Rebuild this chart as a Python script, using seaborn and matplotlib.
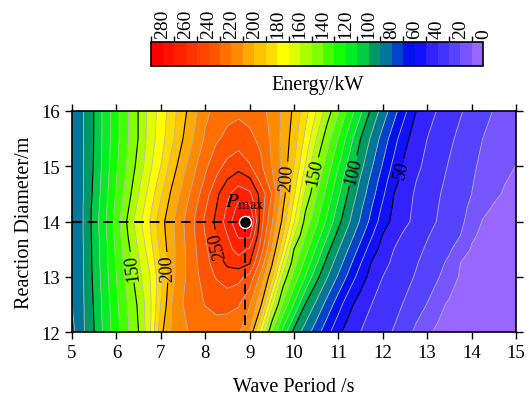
import numpy as np
import matplotlib
matplotlib.use("Agg")
import matplotlib.pyplot as plt
from matplotlib.colors import ListedColormap, BoundaryNorm
import seaborn as sns

# Wave period grid (s) and reaction diameter rows (m)
wave_period = np.linspace(5.0, 15.0, 41)
reaction_diameter = [12.0, 12.5, 13.0, 13.25, 13.5, 13.75, 14.0, 14.25, 14.5, 14.75, 15.0, 15.5, 16.0]

# Energy (kW) along each diameter row, one value per 0.25 s of wave period
energy_d12_00 = [77, 88.6, 100, 113.5, 126.3, 138.6, 150, 167.7, 197.1, 211.4, 218.6, 221.6, 223.6,
                 225.6, 224, 221.5, 210, 175, 140.6, 117, 96.9, 85.7, 74.6, 63.4, 52.2, 45.6, 40,
                 36.5, 33.1, 29.3, 23.9, 18, 10.9, 9, 7.8, 6.7, 5.5, 4.4, 3.3, 2.1, 1]
energy_d12_50 = [80, 89, 101, 114.5, 127.8, 140, 151.8, 166.9, 190, 210, 220, 225.6, 230.4,
                 232.7, 233.1, 230.9, 221.2, 202.3, 165.6, 138.5, 119.2, 100, 88.1, 76.2, 64.3, 52.4,
                 45.6, 40, 36.4, 32.9, 29.1, 24.4, 19.7, 11.6, 9.1, 7.9, 6.7, 5.5, 4.4, 3.2, 2]
energy_d13_00 = [82, 89.5, 102.4, 116.3, 130, 143, 156.8, 169.5, 186.4, 207, 218, 226.7, 234.3,
                 240.8, 245, 243, 236.7, 217.3, 192.9, 157.1, 136.7, 120, 103.3, 90.5, 78.6, 66.7,
                 54.8, 46.3, 40, 36.4, 32.9, 29.2, 25, 20.8, 13.3, 9.25, 8, 6.75, 5.5, 4.25, 3]
energy_d13_25 = [83, 89.7, 102.9, 116.8, 131.1, 145.3, 158.9, 171.9, 190, 207, 217.9, 227.4, 236.4,
                 245, 252, 255.1, 250.9, 226.7, 201.8, 169.7, 143.6, 127.6, 111.5, 96.6, 84.6, 72.6,
                 60.6, 49.3, 43, 38.1, 34.4, 30.7, 26.8, 22.9, 17.8, 10, 8.7, 7.4, 6.1, 4.8, 3.5]
energy_d13_50 = [83.5, 89.5, 103, 117, 132, 147, 161, 175.3, 192.3, 206.8, 217.8, 228, 238,
                 248, 256.7, 264, 258.6, 235.6, 210, 181.3, 150, 134.4, 118.8, 103.1, 90.5, 78.6,
                 66.7, 54.8, 46.3, 40, 36.3, 32.5, 28.8, 25.1, 21.5, 15, 9.4, 8.1, 6.8, 5.4, 4]
energy_d13_75 = [84, 90, 103.5, 118.2, 133.3, 149.4, 163.9, 177.8, 194.7, 207.4, 218.6, 229.2, 240,
                 250, 260, 271.5, 272.7, 241.3, 216, 189.8, 161.4, 141, 125.9, 110.8, 96.7, 84.8,
                 72.9, 61, 49.5, 43.3, 38.2, 34.5, 30.7, 27.1, 23.6, 20, 11, 8.8, 7.4, 6, 4.7]
energy_d14_00 = [84, 90, 104, 118.8, 134.7, 151.3, 166.7, 180, 195.9, 207.8, 219.1, 230, 242,
                 252.3, 264.4, 279, 285, 245, 221.8, 196.9, 171, 147, 132.4, 117.6, 102.9, 90.5,
                 78.6, 66.7, 54.8, 47, 42, 37.5, 33.3, 29.3, 25.7, 22.1, 16, 9.5, 8.2, 6.8, 5.5]
energy_d14_25 = [84, 90, 103.5, 117.8, 132.9, 148.2, 163.3, 176.8, 192.4, 205.2, 216.4, 227.4, 239,
                 250, 261, 272.8, 273, 246.7, 225.5, 201, 176.5, 152, 136.5, 121.8, 107.1, 93.8,
                 81.9, 70, 58.1, 48.3, 42.8, 38.1, 34, 30, 26.3, 22.6, 18.3, 12.4, 9.2, 7.8, 6.5]
energy_d14_50 = [84, 89.6, 102.4, 116.7, 131, 145.3, 160, 173.7, 188, 202.3, 213.5, 224.3, 235.5,
                 247.5, 258, 266, 262, 246.7, 230, 205, 181.8, 159, 141, 126.5, 111.8, 97.6,
                 85.7, 73.8, 61.9, 50, 44, 38.7, 34.8, 30.8, 27.1, 23.6, 20, 15.8, 11.7, 9.1, 7.5]
energy_d14_75 = [84, 89.6, 101.8, 115.8, 130, 142.8, 157.1, 170.5, 184.1, 198.3, 210, 220.8, 231.2,
                 241.2, 250.4, 255.8, 251.9, 237.5, 223.3, 206.2, 185.6, 164.4, 145.3, 130.6, 115.9,
                 101.2, 89, 77.1, 65.2, 53.3, 45.9, 40.2, 36.1, 32, 28.1, 24.4, 20.7, 17.3, 13.8,
                 10.4, 8.7]
energy_d15_00 = [84, 89.5, 101, 115, 128.5, 141, 154, 167.5, 180, 194.4, 206.8, 217.8, 228,
                 236.7, 243, 246.5, 241, 232, 220, 207, 189.7, 169.8, 150, 135.3, 120.6, 105.9,
                 92.9, 81, 69, 57.1, 47.8, 42.2, 37.5, 33.3, 29.2, 25.4, 21.5, 18.2, 15.3, 12.4, 9.8]
energy_d15_50 = [84, 89.5, 100.5, 114, 127, 139, 150.5, 164.5, 175.5, 187.5, 200, 211, 221.5,
                 228.5, 232.5, 235, 232, 228, 218, 207, 195, 178, 160.4, 144, 129.4, 114.7,
                 100, 88, 76, 64.3, 52.4, 45.6, 40, 35.8, 31.7, 27.7, 23.9, 20, 17.5, 14.9, 12.5]
energy_d16_00 = [84, 89.5, 100.5, 114, 127, 139, 150.5, 164, 174, 185.5, 196.5, 207, 217.5,
                 223, 227, 228, 227, 223, 217, 208, 198, 184, 170, 155, 141, 126, 112, 97.6,
                 85.7, 73.8, 62, 50, 44.4, 39, 35, 30.8, 27, 23.3, 19.6, 17.5, 15.5]

# Location of the maximum power point
pmax_period = 8.9
pmax_diameter = 14.0

# Contour bands: 10 kW steps from 0 to 290
levels = np.arange(0, 300, 10)
band_colors = ["#9966ff", "#7755ff", "#5544ff", "#4433ff", "#3322ff", "#1111ff", "#0011ee",
               "#0044cc", "#007799", "#009966", "#00cc44", "#00ee22", "#11ff00", "#44ff00",
               "#80ff00", "#aaff00", "#ddff00", "#ffff00", "#ffdd00", "#ffc400", "#ffaa00",
               "#ff8c00", "#ff7000", "#ff5500", "#ff4400", "#ff3300", "#ff2000", "#ff1000",
               "#ff0000"]
colorbar_ticks = list(range(0, 281, 20))

energy = np.array([energy_d12_00, energy_d12_50, energy_d13_00, energy_d13_25, energy_d13_50,
                   energy_d13_75, energy_d14_00, energy_d14_25, energy_d14_50, energy_d14_75,
                   energy_d15_00, energy_d15_50, energy_d16_00])
X, Y = np.meshgrid(wave_period, reaction_diameter)

sns.set_theme(style="ticks")
plt.rcParams["font.family"] = ["Liberation Serif", "DejaVu Serif"]
plt.rcParams["mathtext.fontset"] = "stix"
plt.rcParams["axes.edgecolor"] = "black"
plt.rcParams["xtick.color"] = "black"
plt.rcParams["ytick.color"] = "black"
plt.rcParams["text.color"] = "black"
plt.rcParams["axes.labelcolor"] = "black"

fig = plt.figure(figsize=(5.32, 4.02), dpi=100)
ax = fig.add_axes([0.1353, 0.1716, 0.8346, 0.5498])
cax = fig.add_axes([0.2844, 0.8326, 0.6241, 0.0612])

cmap = ListedColormap(band_colors)
norm = BoundaryNorm(levels, cmap.N)
cf = ax.contourf(X, Y, energy, levels=levels, cmap=cmap, norm=norm)

minor_levels = [lv for lv in levels[1:] if lv % 50 != 0]
major_levels = [50, 100, 150, 200, 250]
ax.contour(X, Y, energy, levels=minor_levels, colors="#b8b8b8", linewidths=0.6)
cs = ax.contour(X, Y, energy, levels=major_levels, colors="black", linewidths=0.8)
label_spots = [(6.32, 13.17), (7.13, 13.17), (8.17, 13.56), (9.91, 14.8),
               (10.66, 14.86), (11.49, 14.89), (12.54, 14.92)]
labels = ax.clabel(cs, fmt="%d", fontsize=13, inline=True, inline_spacing=2, manual=label_spots)
# keep every label reading upward along its line
for t in labels:
    r = t.get_rotation() % 360
    if r > 180:
        r -= 180
    t.set_rotation(r)

# Guides to the maximum power point
dash = (0, (5, 3))
ax.plot([5.0, pmax_period], [pmax_diameter, pmax_diameter], color="black", lw=1.4, ls=dash, zorder=4)
ax.plot([pmax_period, pmax_period], [pmax_diameter, 12.0], color="black", lw=1.4, ls=dash, zorder=4)
sns.scatterplot(x=[pmax_period], y=[pmax_diameter], s=75, color="black", edgecolor="white",
                linewidth=1.0, zorder=6, ax=ax, legend=False)
ax.text(8.44, 14.27, r"$P_{\mathrm{max}}$", fontsize=15, zorder=6)

ax.set_xlim(5, 15)
ax.set_ylim(12, 16)
ax.set_xticks(range(5, 16))
ax.set_yticks(range(12, 17))
ax.tick_params(direction="out", length=5, width=1, labelsize=13.5, top=True, right=True,
               labeltop=False, labelright=False)
for sp in ax.spines.values():
    sp.set_visible(True)
    sp.set_linewidth(1.2)
ax.set_xlabel("Wave Period /s", fontsize=14.5, labelpad=12)
ax.set_ylabel("Reaction Diameter/m", fontsize=14.5, labelpad=5)

cb = fig.colorbar(cf, cax=cax, orientation="horizontal", drawedges=True, ticks=colorbar_ticks)
cax.invert_xaxis()
cax.xaxis.set_ticks_position("top")
cax.tick_params(axis="x", length=0, pad=3, labelsize=14, labelrotation=90)
cb.outline.set_linewidth(1.2)
cb.dividers.set_color("#333333")
cb.dividers.set_linewidth(0.9)
cb.set_label("Energy/kW", fontsize=14.5, labelpad=6)
cax.xaxis.set_label_position("bottom")

fig.savefig("out.png", dpi=100)
